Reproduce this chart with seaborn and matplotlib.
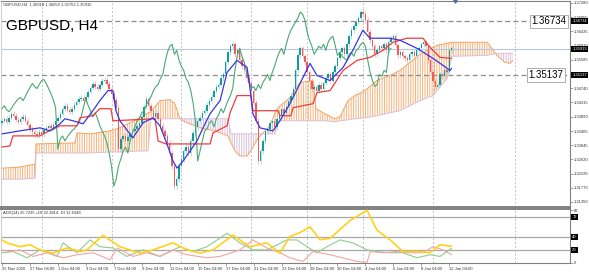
import numpy as np
import matplotlib
matplotlib.use("Agg")
import matplotlib.pyplot as plt
import matplotlib.transforms as mtransforms
import seaborn as sns

# ---------------- data ----------------
FIRST_OPEN = 1.3371
CLOSES = [
    1.3377, 1.3383, 1.3374, 1.3386, 1.3398, 1.3392, 1.3380, 1.3374, 1.3383, 1.3389,
    1.3377, 1.3365, 1.3353, 1.3344, 1.3338, 1.3335, 1.3344, 1.3338, 1.3350, 1.3356,
    1.3362, 1.3356, 1.3365, 1.3377, 1.3386, 1.3398, 1.3413, 1.3422, 1.3410, 1.3404,
    1.3413, 1.3425, 1.3434, 1.3443, 1.3446, 1.3437, 1.3449, 1.3464, 1.3476, 1.3488,
    1.3479, 1.3473, 1.3485, 1.3497, 1.3500, 1.3488, 1.3473, 1.3458, 1.3440, 1.3416,
    1.3293, 1.3323, 1.3332, 1.3317, 1.3329, 1.3338, 1.3347, 1.3353, 1.3362, 1.3371,
    1.3389, 1.3419, 1.3443, 1.3422, 1.3407, 1.3389, 1.3401, 1.3383, 1.3362, 1.3347,
    1.3332, 1.3311, 1.3281, 1.3242, 1.3182, 1.3203, 1.3242, 1.3263, 1.3287, 1.3299,
    1.3281, 1.3317, 1.3341, 1.3359, 1.3377, 1.3386, 1.3401, 1.3407, 1.3425, 1.3437,
    1.3449, 1.3467, 1.3479, 1.3485, 1.3503, 1.3515, 1.3551, 1.3581, 1.3599, 1.3605,
    1.3575, 1.3587, 1.3557, 1.3539, 1.3527, 1.3503, 1.3491, 1.3467, 1.3431, 1.3377,
    1.3257, 1.3287, 1.3317, 1.3347, 1.3353, 1.3371, 1.3377, 1.3359, 1.3383, 1.3395,
    1.3413, 1.3401, 1.3419, 1.3437, 1.3452, 1.3473, 1.3527, 1.3572, 1.3593, 1.3569,
    1.3551, 1.3521, 1.3497, 1.3473, 1.3479, 1.3467, 1.3485, 1.3473, 1.3491, 1.3503,
    1.3515, 1.3497, 1.3521, 1.3539, 1.3563, 1.3581, 1.3593, 1.3575, 1.3605, 1.3629,
    1.3647, 1.3659, 1.3671, 1.3683, 1.3701, 1.3695, 1.3677, 1.3641, 1.3617, 1.3599,
    1.3575, 1.3587, 1.3599, 1.3593, 1.3605, 1.3587, 1.3611, 1.3623, 1.3629, 1.3602,
    1.3572, 1.3581, 1.3569, 1.3563, 1.3557, 1.3575, 1.3581, 1.3569, 1.3587, 1.3593,
    1.3605, 1.3611, 1.3599, 1.3557, 1.3521, 1.3497, 1.3479, 1.3485, 1.3515, 1.3509,
    1.3527, 1.3521, 1.3587, 1.3593,
]
CHIKOU_SHIFT = 26

# Ichimoku lines (bar index, price)
RED_X = [0, 3.4, 4.7, 16.3, 18.5, 24.9, 32.2, 33.5, 39, 42, 46.8, 47.6, 65.7, 67, 70.4,
         89.3, 90.6, 96.6, 97.9, 100.9, 106.9, 107.7, 118.5, 119.3, 124, 124.9, 133.5,
         135.2, 140.8, 146.4, 152.4, 158, 163.5, 167.8, 173.8, 180.7, 183.7, 188, 193]
RED_Y = [1.3299, 1.3302, 1.3332, 1.3332, 1.3341, 1.3362, 1.3362, 1.3386, 1.3392, 1.3413,
         1.3413, 1.3377, 1.3383, 1.3317, 1.3308, 1.3308, 1.3341, 1.3362, 1.3401, 1.3452,
         1.3452, 1.3407, 1.3407, 1.3392, 1.3392, 1.3416, 1.3428, 1.3461, 1.3467, 1.3527,
         1.3557, 1.3566, 1.3587, 1.3611, 1.3623, 1.3623, 1.3596, 1.3566, 1.3563]
BLUE_X = [0, 7.7, 16.3, 20.6, 24.9, 27, 30.5, 34.8, 39, 42, 45.5, 47.6, 48.9, 50.6, 56.2,
          60.5, 64.8, 67.8, 70.8, 73.4, 75.1, 77.7, 80.7, 83.7, 86.3, 89.3, 93.6, 96.6,
          100.9, 105.2, 106.4, 107.7, 110.7, 116.3, 119.3, 123.6, 127.9, 132.2, 135.2,
          140.8, 146.4, 150.6, 154.9, 157.9, 166.5, 170.8, 178.1, 185, 189.3, 192.3, 193]
BLUE_Y = [1.3338, 1.3347, 1.3356, 1.3347, 1.3368, 1.3383, 1.3377, 1.3368, 1.3407, 1.3437,
          1.3467, 1.3467, 1.3407, 1.3377, 1.3326, 1.3371, 1.3386, 1.3362, 1.3308, 1.3257,
          1.3236, 1.3257, 1.3287, 1.3317, 1.3356, 1.3398, 1.3437, 1.3521, 1.3557, 1.3536,
          1.3476, 1.3398, 1.3356, 1.3347, 1.3377, 1.3428, 1.3488, 1.3548, 1.3512, 1.3497,
          1.3536, 1.3587, 1.3647, 1.3623, 1.3623, 1.3617, 1.3593, 1.3563, 1.3542, 1.3527,
          1.3533]
CLOUD_X = [0, 7.7, 14.2, 14.6, 31.3, 32.2, 37.8, 46.4, 50.6, 59.2, 62.7, 63.9, 67.8, 72.1,
           74.2, 76.4, 78.5, 80.7, 85.0, 91.4, 97.0, 98.3, 100.0, 102.1, 105.2, 107.3,
           109.9, 112.9, 115.0, 117.2, 118.5, 123.6, 127.9, 133.5, 134.8, 138.6, 142.9,
           145.1, 148.5, 151.5, 155.8, 160.9, 166.5, 170.8, 175.1, 179.4, 185.0, 186.7,
           191.0, 193.1, 208.2, 210.3, 212.4, 215.9, 218.0, 219.3]
SPAN_A = [1.3236, 1.3239, 1.3248, 1.3308, 1.3311, 1.3341, 1.3338, 1.3347, 1.3356, 1.3386,
          1.3401, 1.3404, 1.3437, 1.3440, 1.3428, 1.3383, 1.3374, 1.3368, 1.3356, 1.3347,
          1.3332, 1.3311, 1.3287, 1.3272, 1.3272, 1.3293, 1.3326, 1.3347, 1.3362, 1.3401,
          1.3416, 1.3446, 1.3491, 1.3497, 1.3413, 1.3398, 1.3383, 1.3389, 1.3437, 1.3452,
          1.3467, 1.3497, 1.3512, 1.3527, 1.3551, 1.3575, 1.3596, 1.3602, 1.3608, 1.3611,
          1.3611, 1.3593, 1.3572, 1.3551, 1.3548, 1.3557]
SPAN_B = [1.3203, 1.3203, 1.3206, 1.3281, 1.3281, 1.3281, 1.3281, 1.3284, 1.3284, 1.3287,
          1.3287, 1.3383, 1.3383, 1.3383, 1.3383, 1.3383, 1.3383, 1.3383, 1.3383, 1.3383,
          1.3383, 1.3338, 1.3338, 1.3338, 1.3338, 1.3338, 1.3338, 1.3338, 1.3338, 1.3338,
          1.3377, 1.3377, 1.3377, 1.3377, 1.3377, 1.3377, 1.3374, 1.3377, 1.3380, 1.3383,
          1.3386, 1.3392, 1.3401, 1.3407, 1.3422, 1.3437, 1.3452, 1.3467, 1.3503, 1.3569,
          1.3572, 1.3575, 1.3578, 1.3578, 1.3578, 1.3578]

# ADX(14)
ADX_X = [0, 2.1, 7.7, 12, 16.3, 21.9, 27.9, 33.5, 36.5, 43.3, 50.6, 59.2, 64.8, 73.4, 79.4,
         85, 90.6, 99.1, 106.4, 113.7, 119.3, 123.6, 127.9, 132.2, 136.5, 140.8, 149.4,
         156.7, 160.9, 166.5, 172.1, 178.1, 183.7, 188, 193]
ADX_V = [35.6, 31, 25, 28, 20, 15, 23, 17.5, 20, 43, 25, 15, 20, 31, 20, 15, 20, 43, 25, 31,
         15, 41, 47, 56, 36, 38, 66, 82, 51, 36, 17.5, 17.5, 15.5, 28, 25.7]
PDI_X = [0, 4.7, 10.7, 16.3, 23.6, 26.2, 32.2, 37.8, 42.1, 47.6, 53.6, 60.5, 67.8, 76.4, 82,
         88, 96.6, 102.1, 107.7, 113.7, 122.3, 126.6, 130.9, 135.2, 139.5, 145.1, 150.6,
         156.7, 160.9, 166.5, 172.1, 178.1, 183.7, 188, 193]
PDI_V = [15.5, 17.5, 7.7, 20, 9.8, 31, 15.5, 35.6, 25, 23, 9.8, 20, 9.8, 25, 17.5, 25, 46, 31,
         20, 20, 35.6, 35.6, 25, 15.5, 25, 35.6, 31, 20, 17.5, 15.5, 15.5, 7.7, 12.4, 9.8, 22.4]
MDI_X = [0, 3.4, 7.7, 13.3, 19.3, 26.2, 32.2, 39.1, 46.4, 49.4, 56.2, 62.2, 67.8, 73.4, 79.4,
         88, 93.6, 102.1, 107.7, 113.7, 119.3, 123.6, 129.2, 133.5, 140.8, 152.4, 156.7, 158,
         163.5, 169.5, 175.1, 180.7, 185, 189.3, 193]
MDI_V = [20, 17.5, 20, 9.8, 15.5, 7.7, 12.4, 15.5, 4.6, 23, 9.8, 15.5, 9.8, 20, 12.4, 7.7,
         9.8, 20, 35.6, 23, 15.5, 7.7, 2, 17.5, 12.4, 2, 0.5, 17.5, 15.5, 17.5, 15.5, 15.5, 25,
         20, 12.6]
ADX_LEVELS = [20, 40, 72]

PRICE_TICKS = [1.37280, 1.36855, 1.36435, 1.36010, 1.35585, 1.34740, 1.34315,
               1.33890, 1.33465, 1.33045, 1.32620, 1.32195, 1.31770, 1.31350]
DATE_LABELS = ["25 Nov 2020", "27 Nov 04:00", "1 Dec 04:00", "3 Dec 04:00", "7 Dec 04:00",
               "9 Dec 04:00", "11 Dec 04:00", "15 Dec 04:00", "17 Dec 04:00", "21 Dec 04:00",
               "23 Dec 04:00", "28 Dec 04:00", "30 Dec 04:00", "4 Jan 04:00", "6 Jan 04:00",
               "8 Jan 04:00", "12 Jan 04:00"]
DATE_POS = list(range(0, 193, 12))
WEEK_LINES = [17, 47, 77, 107, 131, 155, 185, 220]
LEVEL_HI = 1.36734
LEVEL_LO = 1.35137
BID = 1.35915

# ---------------- style ----------------
sns.set_style("white")
plt.rcParams['font.family'] = ['Liberation Sans', 'DejaVu Sans']
plt.rcParams['hatch.linewidth'] = 0.7

UP_BODY, DN_BODY = "#139a9a", "#f25a5a"
UP_WICK, DN_WICK = "#a6dcdc", "#f6b4b4"
WICK = 0.0008
GRID_C = "#c4c4c4"

fig = plt.figure(figsize=(5.89, 2.72), dpi=100)
ax1 = fig.add_axes([1/589, 1-207/272, 569/589, 206/272])
ax2 = fig.add_axes([1/589, 1-263/272, 569/589, 54/272])

XL = (-0.43, 243.8)
for ax in (ax1, ax2):
    ax.set_xlim(*XL)
    ax.set_facecolor("white")
    for w in WEEK_LINES:
        ax.axvline(w, color=GRID_C, lw=0.7, ls=(0, (2, 2)), zorder=0)
    for s in ax.spines.values():
        s.set_color("#808080")
        s.set_linewidth(0.8)
ax1.set_ylim(1.31201, 1.37339)
ax2.set_ylim(-0.5, 84)
ax1.spines['bottom'].set_linewidth(1.4)
ax2.spines['top'].set_linewidth(1.4)
ax1.spines['left'].set_color("#d0d0d0")
ax2.spines['left'].set_color("#d0d0d0")

# ---------------- cloud ----------------
cx = np.array(CLOUD_X); sa = np.array(SPAN_A); sb = np.array(SPAN_B)
ax1.fill_between(cx, sa, sb, where=sa >= sb, interpolate=True, facecolor="none",
                 edgecolor="#f7b27a", hatch="|" * 7, linewidth=0, zorder=1)
ax1.fill_between(cx, sa, sb, where=sa < sb, interpolate=True, facecolor="none",
                 edgecolor="#d9bfd9", hatch="|" * 7, linewidth=0, zorder=1)
sns.lineplot(x=CLOUD_X, y=SPAN_A, ax=ax1, color="#f4a460", lw=0.7, estimator=None,
             sort=False, legend=False, zorder=2)
sns.lineplot(x=CLOUD_X, y=SPAN_B, ax=ax1, color="#d8bfd8", lw=0.7, estimator=None,
             sort=False, legend=False, zorder=2)

# ---------------- candles ----------------
closes = np.array(CLOSES)
opens = np.concatenate([[FIRST_OPEN], closes[:-1]])
idx = np.arange(len(closes))
hi = np.maximum(opens, closes)
lo = np.minimum(opens, closes)
up = closes >= opens
ax1.vlines(idx[up], lo[up] - WICK, hi[up] + WICK, color=UP_WICK, lw=0.6, zorder=3)
ax1.vlines(idx[~up], lo[~up] - WICK, hi[~up] + WICK, color=DN_WICK, lw=0.6, zorder=3)
body = np.maximum(hi - lo, 0.00008)
ax1.bar(idx[up], body[up], bottom=lo[up], width=0.62, color=UP_BODY, lw=0, zorder=4)
ax1.bar(idx[~up], body[~up], bottom=lo[~up], width=0.62, color=DN_BODY, lw=0, zorder=4)

# ---------------- ichimoku lines ----------------
sns.lineplot(x=idx[CHIKOU_SHIFT:] - CHIKOU_SHIFT, y=closes[CHIKOU_SHIFT:], ax=ax1,
             color="#4aa874", lw=0.8, estimator=None, sort=False, legend=False, zorder=5)
sns.lineplot(x=RED_X, y=RED_Y, ax=ax1, color="#f03c3c", lw=0.9, estimator=None,
             sort=False, legend=False, zorder=6)
sns.lineplot(x=BLUE_X, y=BLUE_Y, ax=ax1, color="#3636e6", lw=0.9, estimator=None,
             sort=False, legend=False, zorder=6)

# ---------------- horizontal levels ----------------
ax1.axhline(BID, color="#b8c8dc", lw=0.8, zorder=2)
for lv in (LEVEL_HI, LEVEL_LO):
    ax1.axhline(lv, color="#8c8c8c", lw=0.9, ls=(0, (4, 2.5)), zorder=2)
btr = mtransforms.blended_transform_factory(ax1.transAxes, ax1.transData)
ax1.text(0.963, LEVEL_HI, f"{LEVEL_HI:.5f}", transform=btr,
         ha="center", va="center", fontsize=7, color="black", zorder=10,
         bbox=dict(facecolor="white", edgecolor="#a0a0a0", lw=0.6, pad=1.2))
ax1.text(0.958, LEVEL_LO, f"{LEVEL_LO:.5f}", transform=btr,
         ha="center", va="center", fontsize=7, color="black", zorder=10,
         bbox=dict(facecolor="white", edgecolor="#a0a0a0", lw=0.6, pad=1.2))

# ---------------- price axis ----------------
ax1.yaxis.tick_right()
ax1.set_yticks(PRICE_TICKS)
ax1.set_yticklabels([f"{t:.5f}" for t in PRICE_TICKS])
ax1.tick_params(axis="y", labelsize=3, length=2, width=0.5, color="#808080", pad=1,
                labelcolor="#333333", right=True)
ax1.set_xticks([])
for v in (LEVEL_HI, BID, LEVEL_LO):
    ax1.text(1.004, v, f"{v:.5f}", transform=btr, ha="left", va="center", fontsize=3,
             color="white", zorder=12, clip_on=False,
             bbox=dict(facecolor="black", edgecolor="none", pad=0.6))

# header texts
ax1.text(0.004, 0.992, "GBPUSD,H4  1.36018 1.36050 1.35752 1.35915", transform=ax1.transAxes,
         ha="left", va="top", fontsize=3, color="#333333")
ax1.text(0.008, 0.915, "GBPUSD, H4", transform=ax1.transAxes, ha="left", va="top",
         fontsize=11, color="black", zorder=12)
ax1.plot([194.5], [1.3734], marker="v", ms=2.5, color="#5a6aa0", clip_on=False, zorder=12)

# ---------------- ADX panel ----------------
for lv in ADX_LEVELS:
    ax2.axhline(lv, color="#a8a8a8", lw=0.9, zorder=1)
sns.lineplot(x=PDI_X, y=PDI_V, ax=ax2, color="#8fcc8f", lw=0.8, estimator=None,
             sort=False, legend=False, zorder=3)
sns.lineplot(x=MDI_X, y=MDI_V, ax=ax2, color="#f4a4a4", lw=0.8, estimator=None,
             sort=False, legend=False, zorder=3)
sns.lineplot(x=ADX_X, y=ADX_V, ax=ax2, color="#ffd21a", lw=1.2, estimator=None,
             sort=False, legend=False, zorder=4)
ax2.text(0.004, 0.96, "ADX(14) 25.7235 +DI 22.3814 -DI 12.6348", transform=ax2.transAxes,
         ha="left", va="top", fontsize=3, color="#333333")
ax2.yaxis.tick_right()
ax2.set_yticks([0, 82])
ax2.set_yticklabels(["0", "82"])
ax2.tick_params(axis="y", labelsize=3, length=2, width=0.5, color="#808080", pad=1,
                labelcolor="#333333")
ytr2 = mtransforms.blended_transform_factory(ax2.transAxes, ax2.transData)
for lv in ADX_LEVELS:
    ax2.text(1.004, lv, f"{lv:d}", transform=ytr2, ha="left", va="center", fontsize=3,
             color="white", clip_on=False,
             bbox=dict(facecolor="black", edgecolor="none", pad=0.6))

ax2.set_xticks(DATE_POS)
ax2.set_xticklabels(DATE_LABELS, ha="left")
ax2.tick_params(axis="x", labelsize=3, length=2, width=0.5, color="#808080", pad=1,
                labelcolor="#333333", bottom=True)
ax1.set_xlabel(""); ax1.set_ylabel(""); ax2.set_xlabel(""); ax2.set_ylabel("")

fig.savefig("out.png", dpi=100, facecolor="white")
